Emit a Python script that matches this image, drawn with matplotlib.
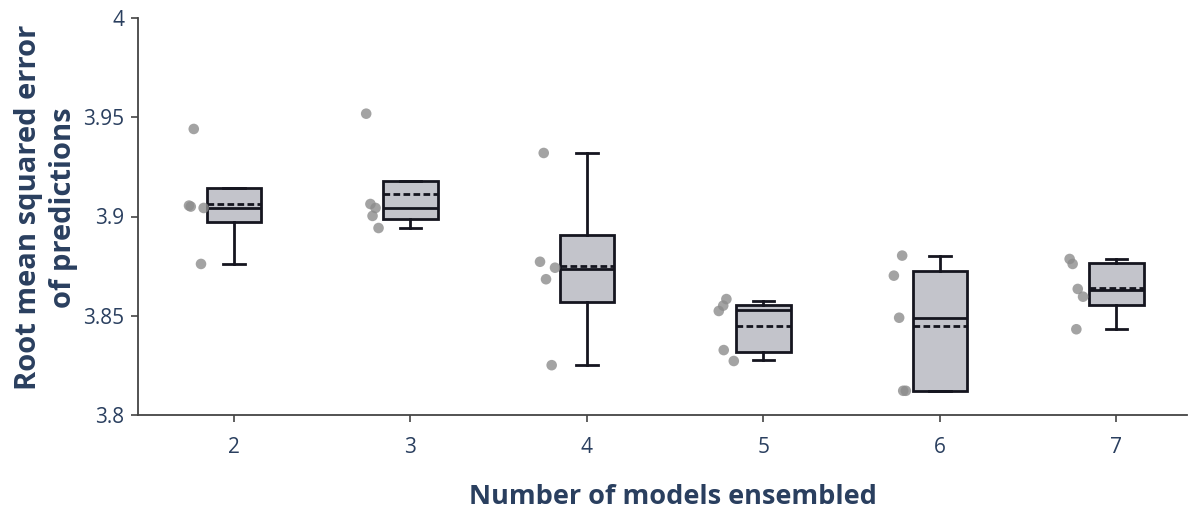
import matplotlib
matplotlib.use("Agg")
import matplotlib.pyplot as plt
import numpy as np

plt.rcParams['font.family'] = ['Open Sans', 'DejaVu Sans']

# ---- data ----
categories = [2, 3, 4, 5, 6, 7]
q1      = [3.8972, 3.8987, 3.8571, 3.8319, 3.8122, 3.8554]
median  = [3.9043, 3.9043, 3.8737, 3.8529, 3.8490, 3.8630]
q3      = [3.9145, 3.9179, 3.8907, 3.8554, 3.8725, 3.8767]
mean    = [3.9063, 3.9113, 3.8751, 3.8450, 3.8447, 3.8638]
whislo  = [3.8761, 3.8942, 3.8252, 3.8277, 3.8122, 3.8433]
whishi  = [3.9145, 3.9179, 3.9318, 3.8576, 3.8803, 3.8786]

points = [
    [3.9441, 3.9055, 3.9050, 3.9043, 3.8761],
    [3.9518, 3.9063, 3.9043, 3.9003, 3.8942],
    [3.9320, 3.8772, 3.8742, 3.8684, 3.8251],
    [3.8584, 3.8551, 3.8524, 3.8327, 3.8272],
    [3.8803, 3.8702, 3.8490, 3.8122, 3.8122],
    [3.8786, 3.8761, 3.8635, 3.8596, 3.8432],
]
jitter = [
    [-0.228, -0.255, -0.245, -0.172, -0.187],
    [-0.251, -0.227, -0.198, -0.215, -0.181],
    [-0.245, -0.266, -0.181, -0.232, -0.200],
    [-0.210, -0.228, -0.253, -0.225, -0.168],
    [-0.214, -0.261, -0.231, -0.208, -0.193],
    [-0.265, -0.248, -0.219, -0.189, -0.227],
]

yticks = [3.8, 3.85, 3.9, 3.95, 4.0]
yticklabels = ["3.8", "3.85", "3.9", "3.95", "4"]
xlabel = "Number of models ensembled"
ylabel = "Root mean squared error\nof predictions"

# ---- style ----
text_col = "#2a3f5f"
edge_col = "#15151f"
fill_col = "#c3c4cb"
pt_col = "#8c8c8c"

fig = plt.figure(figsize=(11.89, 5.12), dpi=100)
ax = fig.add_axes([138/1189, 1-415/512, (1187-138)/1189, (415-18)/512])

stats = []
for i in range(len(categories)):
    stats.append(dict(q1=q1[i], med=median[i], q3=q3[i], mean=mean[i],
                      whislo=whislo[i], whishi=whishi[i], fliers=[]))

lw = 2.0
ax.bxp(stats, positions=categories, widths=0.31, capwidths=0.12,
       showmeans=True, meanline=True, patch_artist=True, showfliers=False,
       boxprops=dict(facecolor=fill_col, edgecolor=edge_col, linewidth=lw),
       medianprops=dict(color=edge_col, linewidth=lw),
       meanprops=dict(color=edge_col, linewidth=lw, linestyle=(0, (2.4, 1.2))),
       whiskerprops=dict(color=edge_col, linewidth=lw),
       capprops=dict(color=edge_col, linewidth=lw),
       manage_ticks=False, zorder=3)

for i, c in enumerate(categories):
    xs = c + np.array(jitter[i])
    ax.scatter(xs, points[i], s=58, color=pt_col, alpha=0.8, edgecolors='none', zorder=4)

ax.set_xlim(2 - 0.544, 7 + 0.40)
ax.set_ylim(3.8, 4.0)
ax.set_xticks(categories)
ax.set_xticklabels([str(c) for c in categories])
ax.set_yticks(yticks)
ax.set_yticklabels(yticklabels)

for s in ['top', 'right']:
    ax.spines[s].set_visible(False)
for s in ['left', 'bottom']:
    ax.spines[s].set_color("#444444")
    ax.spines[s].set_linewidth(1.3)

ax.tick_params(axis='both', colors="#444444", labelcolor=text_col, labelsize=15,
               length=5, width=1.2, direction='out')
ax.tick_params(axis='x', pad=11)
ax.tick_params(axis='y', pad=5)

ax.set_xlabel(xlabel, fontsize=19.5, fontweight='bold', color=text_col)
ax.xaxis.set_label_coords((672.5 - 138) / 1049, -(497 - 415) / 397)
ax.xaxis.label.set_va('center')
ax.set_ylabel(ylabel, fontsize=21, fontweight='bold', color=text_col,
              linespacing=1.3)
ax.yaxis.set_label_coords(-(138 - 46) / 1049, 0.522)
ax.yaxis.label.set_va('center')

fig.savefig("out.png", dpi=100)
